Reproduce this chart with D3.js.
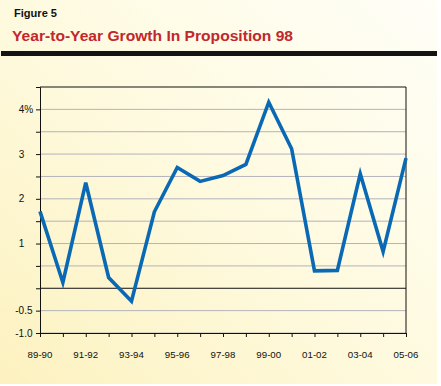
<!DOCTYPE html>
<html lang="en">
<head>
    <meta charset="utf-8">
    <script src="https://d3js.org/d3.v7.min.js"></script>
    <style>
        body { margin: 0; background: #fff; }
        text { font-family: "Liberation Sans", Arial, Helvetica, sans-serif; }
    </style>
</head>
<body>
<script>
    // fiscal years and year-to-year growth (%)
    const years = ["89-90", "90-91", "91-92", "92-93", "93-94", "94-95", "95-96", "96-97", "97-98",
                   "98-99", "99-00", "00-01", "01-02", "02-03", "03-04", "04-05", "05-06"];
    const growth = [1.72, 0.13, 2.36, 0.24, -0.29, 1.71, 2.70, 2.39, 2.52,
                    2.77, 4.16, 3.12, 0.39, 0.40, 2.56, 0.82, 2.91];
    const yearLabels = ["89-90", "91-92", "93-94", "95-96", "97-98", "99-00", "01-02", "03-04", "05-06"];
    const gridValues = [-1, -0.5, 0.5, 1, 1.5, 2, 2.5, 3, 3.5, 4];
    const yTickLabels = [{v: 4, t: "4%"}, {v: 3, t: "3"}, {v: 2, t: "2"}, {v: 1, t: "1"},
                         {v: -0.5, t: "-0.5"}, {v: -1, t: "-1.0"}];

    const W = 441, H = 386;
    const margin = {top: 87, right: 35, bottom: 53, left: 40};
    const width = W - margin.left - margin.right;
    const height = H - margin.top - margin.bottom;

    const svg = d3.select("body").append("svg")
        .attr("width", W)
        .attr("height", H);

    // background panel
    const grad = svg.append("defs").append("linearGradient")
        .attr("id", "bg")
        .attr("x1", 1).attr("y1", 0).attr("x2", 0).attr("y2", 1);
    grad.append("stop").attr("offset", 0).attr("stop-color", "#fffef7");
    grad.append("stop").attr("offset", 0.5).attr("stop-color", "#fefadf");
    grad.append("stop").attr("offset", 1).attr("stop-color", "#fcf1bf");

    svg.append("rect")
        .attr("width", 437).attr("height", 384)
        .attr("fill", "url(#bg)");

    // header
    svg.append("text")
        .attr("x", 14).attr("y", 17)
        .attr("font-size", 11).attr("font-weight", "bold")
        .attr("textLength", 43).attr("lengthAdjust", "spacingAndGlyphs")
        .attr("fill", "#111")
        .text("Figure 5");

    svg.append("text")
        .attr("x", 12).attr("y", 41)
        .attr("font-size", 14.5).attr("font-weight", "bold")
        .attr("textLength", 281).attr("lengthAdjust", "spacingAndGlyphs")
        .attr("fill", "#c1272d")
        .text("Year-to-Year Growth In Proposition 98");

    svg.append("rect")
        .attr("x", 1).attr("y", 51)
        .attr("width", 436).attr("height", 5)
        .attr("fill", "#141414");

    const g = svg.append("g")
        .attr("transform", "translate(" + margin.left + "," + margin.top + ")");

    const x = d3.scalePoint()
        .domain(years)
        .range([0, width]);

    const y = d3.scaleLinear()
        .domain([-1, 4.5])
        .range([height, 0]);

    // gridlines
    g.selectAll(".grid")
        .data(gridValues)
        .enter().append("line")
        .attr("class", "grid")
        .attr("x1", 0).attr("x2", width)
        .attr("y1", d => y(d)).attr("y2", d => y(d))
        .attr("stroke", "#b3b3bb")
        .attr("stroke-width", 1);

    // zero line
    g.append("line")
        .attr("x1", 0).attr("x2", width)
        .attr("y1", y(0)).attr("y2", y(0))
        .attr("stroke", "#111").attr("stroke-width", 1);

    // left axis with ticks at every half step
    const yAxis = g.append("g")
        .call(d3.axisLeft(y)
            .tickValues(d3.range(-1, 4.51, 0.5))
            .tickSize(4)
            .tickFormat(""));
    yAxis.select(".domain").attr("stroke", "#111");
    yAxis.selectAll(".tick line").attr("stroke", "#111");

    g.selectAll(".ylab")
        .data(yTickLabels)
        .enter().append("text")
        .attr("class", "ylab")
        .attr("x", d => d.v < 0 ? -7.5 : -21.3)
        .attr("y", d => y(d.v))
        .attr("dy", "0.35em")
        .attr("text-anchor", d => d.v < 0 ? "end" : "start")
        .attr("font-size", 10)
        .attr("fill", "#111")
        .text(d => d.t);

    // bottom axis
    const xAxis = g.append("g")
        .attr("transform", "translate(0," + height + ")")
        .call(d3.axisBottom(x).tickSize(4).tickFormat(""));
    xAxis.select(".domain").attr("stroke", "#111");
    xAxis.selectAll(".tick line").attr("stroke", "#111");

    g.selectAll(".xlab")
        .data(yearLabels)
        .enter().append("text")
        .attr("class", "xlab")
        .attr("x", d => x(d))
        .attr("y", height + 24.5)
        .attr("text-anchor", "middle")
        .attr("font-size", 9.7)
        .attr("fill", "#111")
        .text(d => d);

    // top and right border
    g.append("line")
        .attr("x1", 0).attr("x2", width).attr("y1", 0).attr("y2", 0)
        .attr("stroke", "#111");
    g.append("line")
        .attr("x1", width).attr("x2", width).attr("y1", 0).attr("y2", height)
        .attr("stroke", "#111");

    // growth line
    g.append("path")
        .datum(growth)
        .attr("fill", "none")
        .attr("stroke", "#0a69b5")
        .attr("stroke-width", 3.6)
        .attr("stroke-linejoin", "miter")
        .attr("d", d3.line()
            .x((d, i) => x(years[i]))
            .y(d => y(d)));
</script>
</body>
</html>
